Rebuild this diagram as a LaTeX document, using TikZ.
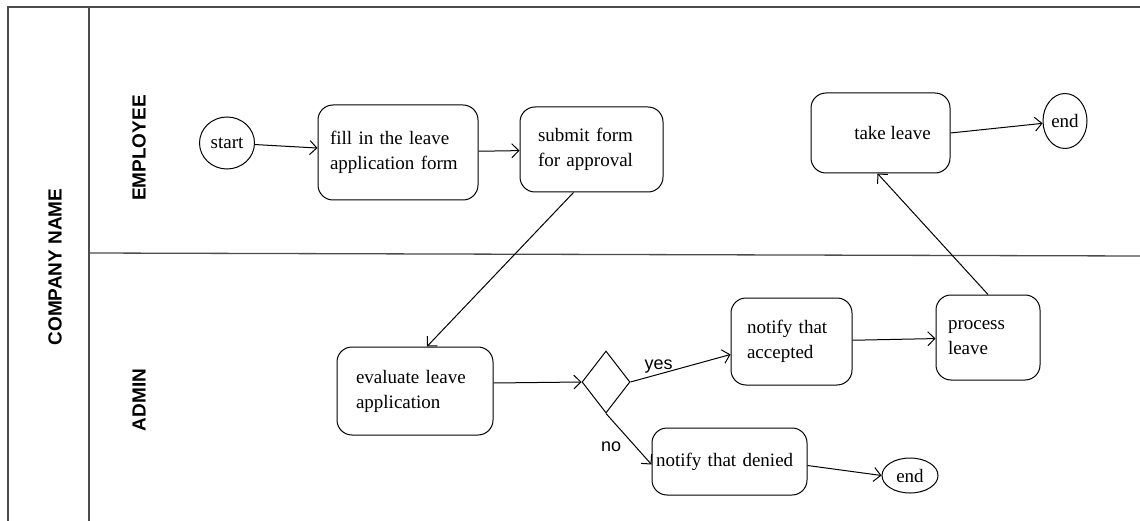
\documentclass[tikz,border=0pt]{standalone}
\usepackage{fontspec}
\setmainfont{Liberation Serif}
\setsansfont{Liberation Sans}
\usetikzlibrary{shapes.geometric,arrows.meta}
\tikzset{
  frame/.style={draw=black!70, line width=1.6pt},
  box/.style={draw, rounded corners=15pt, line width=1pt, align=left, font=\fontsize{19}{25}\selectfont, inner ysep=0pt},
  term/.style={draw, ellipse, line width=1pt, inner sep=0pt, font=\fontsize{19}{25}\selectfont},
  lane/.style={font=\sffamily\bfseries\fontsize{19}{22}\selectfont, rotate=90},
  arr/.style={line width=1pt, -{Straight Barb[length=7pt,width=14pt,line width=1pt]}},
  lbl/.style={font=\sffamily\fontsize{18}{20}\selectfont, inner sep=1pt}
}
\begin{document}
\begin{tikzpicture}[x=1pt,y=-1pt]
\useasboundingbox (0,0) rectangle (1140,521);
% swimlane frame
\coordinate (tl) at (8,7);
\coordinate (tr) at (1140,7);
\coordinate (bl) at (8,521);
\coordinate (it) at (89,7);
\coordinate (ib) at (89,521);
\coordinate (dl) at (88,253);
\coordinate (dr) at (1140,256);
\draw[frame] (bl) -- (tl) -- (tr);
\draw[frame, line width=1.3pt] (it) -- (ib);
\draw[frame, line width=1.3pt] (dl) -- (dr);
\node[lane] (company) at (55,267) {COMPANY NAME};
\node[lane] (employee) at (139,148) {EMPLOYEE};
\node[lane] (admin) at (139,400) {ADMIN};
% nodes
\node[term, minimum width=55, minimum height=52] (start) at (227,143) {start};
\node[box, minimum width=160, minimum height=95, text width=136, inner xsep=12] (fill) at (398,152.5) {fill in the leave\\application form};
\node[box, minimum width=143, minimum height=85, text width=107, inner xsep=18] (submit) at (591.5,149.5) {submit form\\for approval};
\node[box, minimum width=156, minimum height=88, text width=118, inner xsep=19] (eval) at (415,391) {evaluate leave\\application};
\node[draw, diamond, line width=1pt, minimum width=48, minimum height=62, inner sep=0pt] (dec) at (606,382) {};
\node[box, minimum width=121, minimum height=87, text width=89, inner xsep=16] (acc) at (791.5,341.5) {notify that\\accepted};
\node[box, minimum width=104, minimum height=85, text width=80, inner xsep=12] (proc) at (988,337.5) {process\\leave};
\node[box, minimum width=155, minimum height=67, text width=147, inner xsep=4] (den) at (729.5,461.5) {notify that denied};
\node[box, minimum width=139, minimum height=80, align=center] (take) at (880.5,133) {\hspace*{24pt}take leave};
\node[term, minimum width=44, minimum height=55] (end1) at (1065,121) {end};
\node[term, minimum width=56, minimum height=35] (end2) at (910,475.5) {end};
% connectors
\draw[arr] (start) -- (fill);
\draw[arr] (fill) -- (submit);
\draw[arr] ([xshift=-18pt]submit.south) -- ([xshift=12pt]eval.north);
\draw[arr] ([yshift=8pt]eval.east) -- (dec.west);
\draw[arr] (dec.east) -- node[lbl, pos=0.28, above] {yes} ([yshift=-13pt]acc.west);
\draw[arr] (dec.south) -- node[lbl, pos=0.65, left, xshift=-13pt] {no} ([yshift=-3pt]den.west);
\draw[arr] (acc) -- (proc);
\draw[arr] (proc.north) -- ([xshift=-3pt]take.south);
\draw[arr] (take.east) -- (end1);
\draw[arr] ([yshift=-4pt]den.east) -- (end2.west);
\end{tikzpicture}
\end{document}
